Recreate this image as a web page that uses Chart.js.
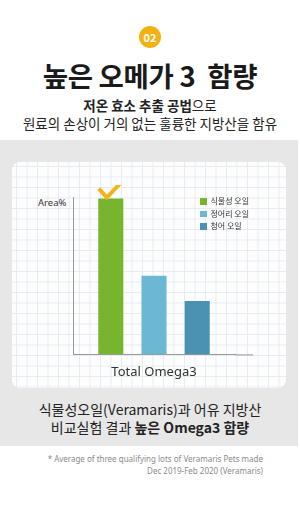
<!DOCTYPE html>
<html>
<head>
<meta charset="utf-8">
<script src="https://cdn.jsdelivr.net/npm/chart.js@4.4.0/dist/chart.umd.min.js"></script>
<style>
  html, body { margin: 0; padding: 0; background: #fff; }
  body { width: 300px; height: 510px; position: relative; overflow: hidden;
         font-family: "Noto Sans CJK KR", "Noto Sans", sans-serif; color: #222; }
  .badge { position: absolute; left: 139px; top: 26px; width: 22px; height: 22px; border-radius: 50%;
           background: #f3b212; color: #fff; font-size: 11px; font-weight: 700; text-align: center; line-height: 22px; }
  .title { position: absolute; left: 0; width: 300px; top: 55px; text-align: center; font-size: 27.5px;
           font-weight: 700; white-space: pre; color: #1a1a1a; letter-spacing: -0.3px; }
  .sub1 { position: absolute; left: 0; width: 300px; top: 95px; text-align: center; font-size: 13.5px; color: #222; }
  .sub2 { position: absolute; left: 0; width: 300px; top: 113px; text-align: center; font-size: 13.5px; color: #222; }
  .band { position: absolute; left: 0; top: 140px; width: 298px; height: 306px; background: #e7e7e7; }
  .card { position: absolute; left: 12px; top: 162px; width: 274px; height: 226px; border-radius: 8px;
          background-color: #fdfdfe;
          background-image: linear-gradient(to right, #e6ecf3 1px, transparent 1px),
                            linear-gradient(to bottom, #e6ecf3 1px, transparent 1px);
          background-size: 10.5px 10.5px; background-position: 4px 4px; }
  .chartbox { position: absolute; left: 60px; top: 185px; width: 200px; height: 200px; }
  .ylab { position: absolute; left: 38px; top: 196px; font-size: 9.5px; color: #333; font-family: "Noto Sans", sans-serif; }
  .legend { position: absolute; left: 200px; top: 195px; font-size: 8px; color: #333; }
  .legend div { height: 12.5px; line-height: 12.5px; white-space: nowrap; }
  .legend span { display: inline-block; width: 6.5px; height: 6.5px; margin-right: 4px; vertical-align: -0.5px; }
  .bot1 { position: absolute; left: 0; width: 300px; top: 399px; text-align: center; font-size: 14px; color: #222; }
  .bot2 { position: absolute; left: 0; width: 300px; top: 417px; text-align: center; font-size: 14px; color: #222; }
  .foot { position: absolute; right: 37px; top: 453px; text-align: right; font-size: 8px; line-height: 12px;
          color: #8a8a8a; font-family: "Noto Sans", sans-serif; }
</style>
</head>
<body>
<div class="badge">02</div>
<div class="title">높은 오메가 3  함량</div>
<div class="sub1"><b>저온 효소 추출 공법</b>으로</div>
<div class="sub2">원료의 손상이 거의 없는 훌륭한 지방산을 함유</div>
<div class="band"></div>
<div class="card"></div>
<div class="ylab">Area%</div>
<div class="chartbox"><canvas id="myChart"></canvas></div>
<div class="legend" id="legend"></div>
<div class="bot1">식물성오일(Veramaris)과 어유 지방산</div>
<div class="bot2">비교실험 결과 <b>높은 Omega3 함량</b></div>
<div class="foot">* Average of three qualifying lots of Veramaris Pets made<br>Dec 2019-Feb 2020 (Veramaris)</div>

<script>
const categories = ['Total Omega3'];
const seriesNames = ['식물성 오일', '정어리 오일', '청어 오일'];
const seriesValues = [[99], [50], [34]];
const seriesColors = ['#77b52f', '#6bb8d4', '#4b91b2'];
const yLabel = 'Area%';

// checkmark over the first bar
const checkPlugin = {
    id: 'check',
    afterDatasetsDraw(chart) {
        const bar = chart.getDatasetMeta(0).data[0];
        if (!bar) return;
        const ctx = chart.ctx;
        ctx.save();
        ctx.strokeStyle = '#f4b31b';
        ctx.lineWidth = 4;
        ctx.lineJoin = 'miter';
        ctx.beginPath();
        ctx.moveTo(bar.x - 12, bar.y - 10);
        ctx.lineTo(bar.x - 4, bar.y - 1);
        ctx.lineTo(bar.x + 13, bar.y - 19);
        ctx.stroke();
        ctx.restore();
    }
};

// x axis line runs a bit past the plot in the original
const axisExtend = {
    id: 'axisExtend',
    afterDraw(chart) {
        const a = chart.chartArea;
        const ctx = chart.ctx;
        ctx.save();
        ctx.strokeStyle = '#9a9a9a';
        ctx.lineWidth = 1;
        ctx.beginPath();
        ctx.moveTo(a.right, a.bottom + 0.5);
        ctx.lineTo(a.right + 18, a.bottom + 0.5);
        ctx.stroke();
        ctx.restore();
    }
};

function buildChart() {
    const ctx = document.getElementById('myChart').getContext('2d');
    window.myChart = new Chart(ctx, {
        type: 'bar',
        data: {
            labels: categories,
            datasets: seriesNames.map((name, i) => ({
                label: name,
                data: seriesValues[i],
                backgroundColor: seriesColors[i],
                borderWidth: 0,
                categoryPercentage: 0.8,
                barPercentage: 0.58
            }))
        },
        options: {
            responsive: true,
            maintainAspectRatio: false,
            animation: false,
            layout: { padding: { left: 5, top: 12, right: 25, bottom: 5 } },
            scales: {
                x: {
                    grid: { display: false },
                    border: { display: true, color: '#9a9a9a', width: 1 },
                    ticks: { display: false },
                    title: {
                        display: true,
                        text: categories[0],
                        color: '#333',
                        font: { family: 'Noto Sans', size: 13 },
                        padding: { top: 2, bottom: 0 }
                    }
                },
                y: {
                    min: 0,
                    max: 100,
                    grid: { display: false },
                    border: { display: true, color: '#9a9a9a', width: 1 },
                    ticks: { display: false }
                }
            },
            plugins: {
                legend: { display: false },
                tooltip: { enabled: false }
            }
        },
        plugins: [checkPlugin, axisExtend]
    });

    const legend = document.getElementById('legend');
    seriesNames.forEach((name, i) => {
        const row = document.createElement('div');
        row.innerHTML = `<span style="background:${seriesColors[i]}"></span>${name}`;
        legend.appendChild(row);
    });
}

window.onload = buildChart;
</script>
</body>
</html>
